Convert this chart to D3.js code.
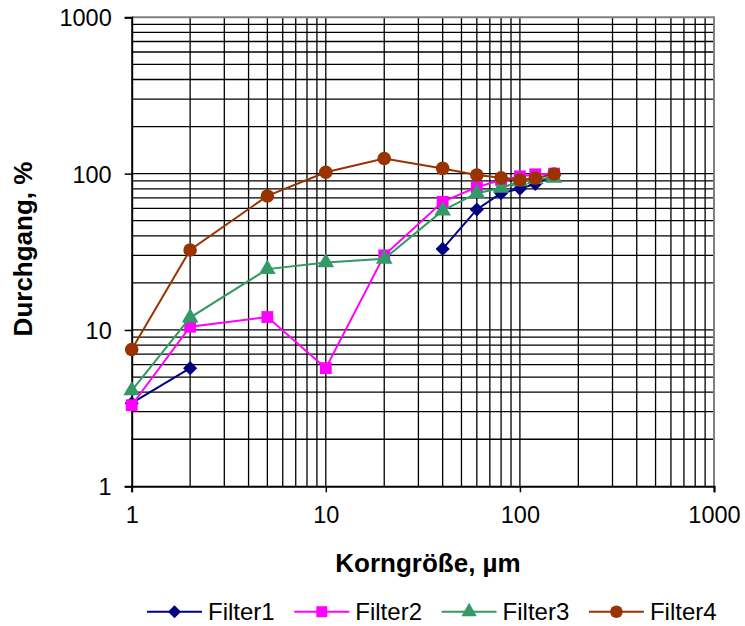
<!DOCTYPE html>
<html>
<head>
<meta charset="utf-8">
<script src="https://cdn.jsdelivr.net/npm/d3@7"></script>
<style>
  html, body { margin: 0; padding: 0; background: #fff; }
  svg { display: block; font-family: "Liberation Sans", Arial, sans-serif; }
</style>
</head>
<body>
<svg id="chart" width="745" height="626"></svg>
<script>
// Grain size (µm) at which each filter was measured
const sizes = [1, 2, 5, 10, 20, 40, 60, 80, 100, 120, 150];

// Passing fraction (%) per filter; null = no measurement
const filter1 = [3.4, 5.7, null, null, null, 33, 59, 75, 80, 86, 98];
const filter2 = [3.3, 10.5, 12.1, 5.7, 30, 66, 82, 91, 96, 99, 100];
const filter3 = [4.1, 12, 24.5, 27, 28.5, 58, 75, 81, 89, 92, 94];
const filter4 = [7.5, 32.5, 72, 102, 125, 108, 98, 94, 91, 93.5, 99.5];

const seriesNames = ["Filter1", "Filter2", "Filter3", "Filter4"];
const xTickValues = [1, 10, 100, 1000];
const yTickValues = [1, 10, 100, 1000];

// Diamond drawn as a square turned by 45 degrees
const symbolRhombus = {
  draw(context, size) {
    const r = Math.sqrt(size / 2);
    context.moveTo(0, -r);
    context.lineTo(r, 0);
    context.lineTo(0, r);
    context.lineTo(-r, 0);
    context.closePath();
  }
};

const series = [
  { name: seriesNames[0], values: filter1, color: "#000080", symbol: symbolRhombus, size: 100 },
  { name: seriesNames[1], values: filter2, color: "#FF00FF", symbol: d3.symbolSquare, size: 140 },
  { name: seriesNames[2], values: filter3, color: "#339966", symbol: d3.symbolTriangle, size: 120 },
  { name: seriesNames[3], values: filter4, color: "#993300", symbol: d3.symbolCircle, size: 145 }
];

const svg = d3.select("#chart");
const plot = { left: 131.7, right: 714, top: 17.3, bottom: 486.3 };

const x = d3.scaleLog().domain([1, 1000]).range([plot.left, plot.right]);
const y = d3.scaleLog().domain([1, 1000]).range([plot.bottom, plot.top]);

// Full log grid: every 1..9 multiple in each decade
const gridVals = [];
for (let p = 0; p < 3; p++) {
  for (let m = 1; m <= 9; m++) gridVals.push(m * Math.pow(10, p));
}
gridVals.push(1000);

const grid = svg.append("g").attr("class", "grid");
grid.selectAll("line.v")
  .data(gridVals.filter(v => v > 1 && v < 1000))
  .join("line")
  .attr("class", "v")
  .attr("x1", d => x(d)).attr("x2", d => x(d))
  .attr("y1", plot.top).attr("y2", plot.bottom)
  .attr("stroke", "#000").attr("stroke-width", 1.3);
grid.selectAll("line.h")
  .data(gridVals.filter(v => v > 1 && v < 1000))
  .join("line")
  .attr("class", "h")
  .attr("x1", plot.left).attr("x2", plot.right)
  .attr("y1", d => y(d)).attr("y2", d => y(d))
  .attr("stroke", "#000").attr("stroke-width", 1.3);

// Plot area frame (top and right)
svg.append("path")
  .attr("d", `M${plot.left},${plot.top}H${plot.right}V${plot.bottom}`)
  .attr("fill", "none").attr("stroke", "#808080").attr("stroke-width", 2);

// Axes
const xAxis = d3.axisBottom(x).tickValues(xTickValues).tickFormat(d3.format("d")).tickSize(6).tickPadding(14);
const yAxis = d3.axisLeft(y).tickValues(yTickValues).tickFormat(d3.format("d")).tickSize(7).tickPadding(13);

const gx = svg.append("g").attr("transform", `translate(0,${plot.bottom})`).call(xAxis);
const gy = svg.append("g").attr("transform", `translate(${plot.left},0)`).call(yAxis);
[gx, gy].forEach(g => {
  g.select(".domain").attr("stroke", "#000").attr("stroke-width", 2);
  g.selectAll(".tick line").attr("stroke", "#000").attr("stroke-width", 1.5);
  g.selectAll(".tick text").attr("fill", "#000").attr("font-size", 23.5)
    .attr("font-family", "Liberation Sans, Arial, sans-serif");
});
gx.selectAll(".tick text").attr("dy", "0.71em");
gy.selectAll(".tick text").attr("dy", "0.36em");

// Axis titles
svg.append("text")
  .attr("x", 428).attr("y", 572)
  .attr("text-anchor", "middle")
  .attr("font-size", 26).attr("font-weight", "bold")
  .text("Korngröße, µm");
svg.append("text")
  .attr("transform", "translate(32,249) rotate(-90)")
  .attr("text-anchor", "middle")
  .attr("font-size", 26).attr("font-weight", "bold")
  .text("Durchgang, %");

// Series lines and markers
const line = d3.line()
  .defined(d => d.v != null)
  .x(d => x(d.s))
  .y(d => y(d.v));

series.forEach(s => {
  const pts = sizes.map((sz, i) => ({ s: sz, v: s.values[i] }));
  const g = svg.append("g");
  g.append("path")
    .datum(pts)
    .attr("d", line)
    .attr("fill", "none")
    .attr("stroke", s.color)
    .attr("stroke-width", 2);
  g.selectAll("path.m")
    .data(pts.filter(d => d.v != null))
    .join("path")
    .attr("class", "m")
    .attr("transform", d => `translate(${x(d.s)},${y(d.v)})`)
    .attr("d", d3.symbol().type(s.symbol).size(s.size))
    .attr("fill", s.color);
});

// Legend
const legend = svg.append("g").attr("transform", "translate(147,611.7)");
series.forEach((s, i) => {
  const g = legend.append("g").attr("transform", `translate(${i * 147.3},0)`);
  g.append("line").attr("x1", 0).attr("x2", 55).attr("y1", 0).attr("y2", 0)
    .attr("stroke", s.color).attr("stroke-width", 2);
  g.append("path").attr("transform", "translate(27.5,0)")
    .attr("d", d3.symbol().type(s.symbol).size(s.size * 0.85))
    .attr("fill", s.color);
  g.append("text").attr("x", 61).attr("y", 0).attr("dy", "0.36em")
    .attr("font-size", 24).text(s.name);
});
</script>
</body>
</html>
